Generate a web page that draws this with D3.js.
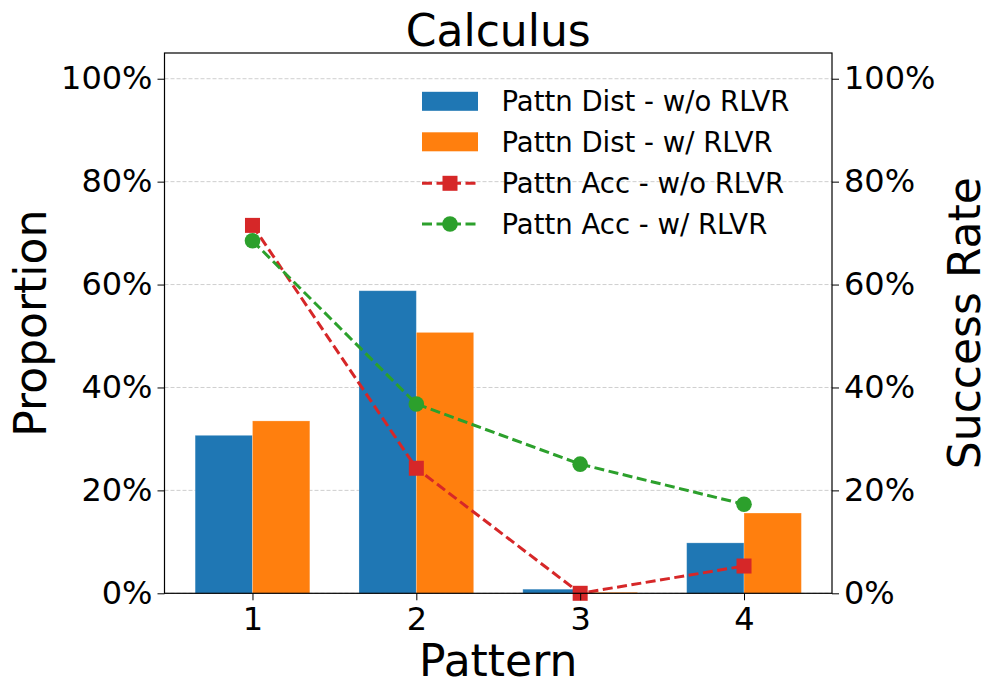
<!DOCTYPE html>
<html><head><meta charset="utf-8">
<script src="https://cdn.jsdelivr.net/npm/d3@7/dist/d3.min.js"></script>
<style>
html,body{margin:0;padding:0;background:#fff;}
svg{display:block;font-family:"DejaVu Sans",sans-serif;}
</style></head>
<body>
<svg id="chart" width="997" height="695"></svg>
<script>
const title = "Calculus";
const patterns = [1, 2, 3, 4];
const distWithout = [30.7, 58.8, 0.8, 9.8];
const distWith = [33.5, 50.7, 0.2, 15.6];
const accWithout = [71.5, 24.3, 0.0, 5.3];
const accWith = [68.5, 36.8, 25.1, 17.3];
const yTicks = [0, 20, 40, 60, 80, 100];
const seriesNames = ["Pattn Dist - w/o RLVR", "Pattn Dist - w/ RLVR", "Pattn Acc - w/o RLVR", "Pattn Acc - w/ RLVR"];
const colors = ["#1f77b4", "#ff7f0e", "#d62728", "#2ca02c"];

const svg = d3.select("#chart");
const L = 164.5, R = 832, T = 53, B = 593.3;
const barW = 0.35;
const x = d3.scaleLinear().domain([0.463, 4.537]).range([L, R]);
const y = d3.scaleLinear().domain([0, 105]).range([B, T]);
const y2 = d3.scaleLinear().domain([0, 105]).range([B, T]);

// grid
svg.append("g").selectAll("line").data(yTicks).join("line")
  .attr("x1", L).attr("x2", R)
  .attr("y1", d => y(d)).attr("y2", d => y(d))
  .attr("stroke", "#cfcfcf").attr("stroke-width", 1)
  .attr("stroke-dasharray", "4,2");

// bars
const gb = svg.append("g");
gb.selectAll("rect.b0").data(patterns).join("rect")
  .attr("x", (d) => x(d - barW)).attr("width", (d) => x(d) - x(d - barW))
  .attr("y", (d, i) => y(distWithout[i])).attr("height", (d, i) => y(0) - y(distWithout[i]))
  .attr("fill", colors[0]).attr("stroke", "#ffffff").attr("stroke-opacity", 0.3).attr("stroke-width", 0.8);
gb.selectAll("rect.b1").data(patterns).join("rect")
  .attr("x", (d) => x(d)).attr("width", (d) => x(d + barW) - x(d))
  .attr("y", (d, i) => y(distWith[i])).attr("height", (d, i) => y(0) - y(distWith[i]))
  .attr("fill", colors[1]).attr("stroke", "#ffffff").attr("stroke-opacity", 0.3).attr("stroke-width", 0.8);

// lines
const line = d3.line().x(d => x(d[0])).y(d => y2(d[1]));
const dash = "10,4.5";
function drawLine(vals, color, shape) {
  const pts = patterns.map((p, i) => [p, vals[i]]);
  svg.append("path").datum(pts).attr("d", line)
    .attr("fill", "none").attr("stroke", color).attr("stroke-width", 3)
    .attr("stroke-dasharray", dash);
  const g = svg.append("g");
  if (shape === "square") {
    g.selectAll("rect").data(pts).join("rect")
      .attr("x", d => x(d[0]) - 7.5).attr("y", d => y2(d[1]) - 7.5)
      .attr("width", 15).attr("height", 15).attr("fill", color);
  } else {
    g.selectAll("circle").data(pts).join("circle")
      .attr("cx", d => x(d[0])).attr("cy", d => y2(d[1])).attr("r", 7.8).attr("fill", color);
  }
}
drawLine(accWithout, colors[2], "square");
drawLine(accWith, colors[3], "circle");

// axes
const fmt = d => d + "%";
const axL = svg.append("g").attr("transform", `translate(${L},0)`)
  .call(d3.axisLeft(y).tickValues(yTicks).tickFormat(fmt).tickSize(7).tickPadding(5));
const axR = svg.append("g").attr("transform", `translate(${R},0)`)
  .call(d3.axisRight(y2).tickValues(yTicks).tickFormat(fmt).tickSize(7).tickPadding(5));
const axB = svg.append("g").attr("transform", `translate(0,${B})`)
  .call(d3.axisBottom(x).tickValues(patterns).tickFormat(d3.format("d")).tickSize(7).tickPadding(6));
[axL, axR, axB].forEach(a => {
  a.select(".domain").remove();
  a.selectAll(".tick line").attr("stroke", "#000").attr("stroke-width", 1);
  a.selectAll(".tick text").attr("font-size", 32).attr("fill", "#000")
    .attr("font-family", "DejaVu Sans");
});
axB.selectAll(".tick text").attr("dy", "0.75em");

// frame
svg.append("rect").attr("x", L).attr("y", T).attr("width", R - L).attr("height", B - T)
  .attr("fill", "none").attr("stroke", "#000").attr("stroke-width", 1.2);

// title and labels
svg.append("text").attr("x", (L + R) / 2).attr("y", 46).attr("text-anchor", "middle")
  .attr("font-size", 44).text(title);
svg.append("text").attr("x", (L + R) / 2).attr("y", 676).attr("text-anchor", "middle")
  .attr("font-size", 44).text("Pattern");
svg.append("text").attr("transform", `translate(46,${(T + B) / 2}) rotate(-90)`)
  .attr("text-anchor", "middle").attr("font-size", 44).text("Proportion");
svg.append("text").attr("transform", `translate(980,${(T + B) / 2}) rotate(-90)`)
  .attr("text-anchor", "middle").attr("font-size", 44).text("Success Rate");

// legend
const legY = [101.3, 141.8, 183.3, 224];
const lg = svg.append("g");
[0, 1].forEach(i => {
  lg.append("rect").attr("x", 422).attr("y", legY[i] - 9.5).attr("width", 56).attr("height", 19)
    .attr("fill", colors[i]);
});
[2, 3].forEach(i => {
  lg.append("line").attr("x1", 422).attr("x2", 478).attr("y1", legY[i]).attr("y2", legY[i])
    .attr("stroke", colors[i]).attr("stroke-width", 3).attr("stroke-dasharray", dash);
  if (i === 2) lg.append("rect").attr("x", 450 - 7.5).attr("y", legY[i] - 7.5).attr("width", 15).attr("height", 15).attr("fill", colors[i]);
  else lg.append("circle").attr("cx", 450).attr("cy", legY[i]).attr("r", 7.8).attr("fill", colors[i]);
});
seriesNames.forEach((s, i) => {
  lg.append("text").attr("x", 501.5).attr("y", legY[i]).attr("dy", "0.36em")
    .attr("font-size", 27.5).text(s);
});
</script>
</body></html>
